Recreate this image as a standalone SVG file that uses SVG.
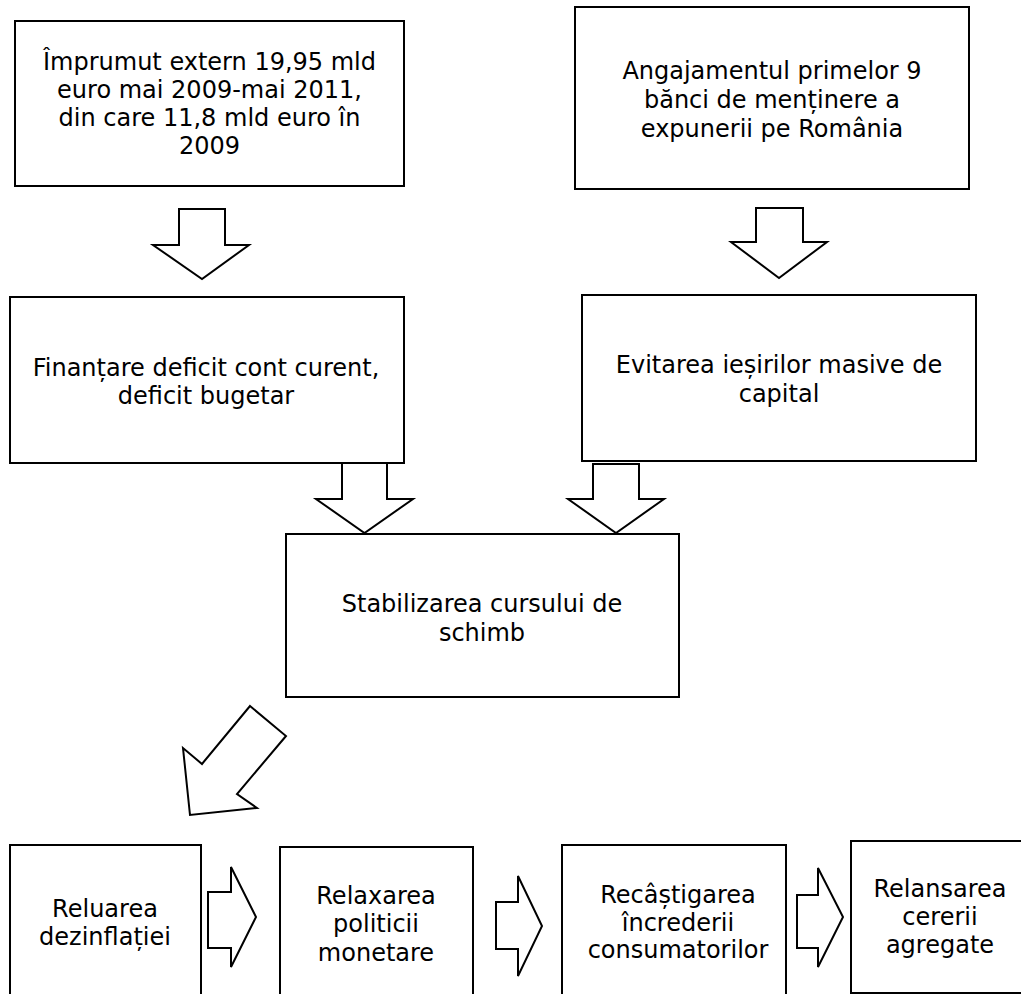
<svg xmlns="http://www.w3.org/2000/svg" width="1021" height="994" viewBox="0 0 1021 994">
  <style>
    .box { fill: #ffffff; stroke: #000000; stroke-width: 2; }
    .arrow { fill: #ffffff; stroke: #000000; stroke-width: 2; stroke-linejoin: miter; }
    .label { font-family: "DejaVu Sans", Verdana, sans-serif; font-size: 24px; fill: #000000; text-anchor: middle; }
  </style>
  <rect x="0" y="0" width="1021" height="994" fill="#ffffff"/>

  <!-- block arrows between the boxes -->
  <g id="connectors">
    <polygon class="arrow" points="179,209 225,209 225,245 249,245 202,279 153,245 179,245"/>
    <polygon class="arrow" points="756,208 803,208 803,242 827,242 779,278 731,242 756,242"/>
    <polygon class="arrow" points="342,463 387,463 387,499 413,499 364.5,533 316,499 342,499"/>
    <polygon class="arrow" points="593,464 639,464 639,499 664,499 616,533 568,499 593,499"/>
    <polygon class="arrow" points="250,706 286,736 237,794 257,808 190,815 183,748 202,764"/>
    <polygon class="arrow" points="208,892 231,892 231,867 256,917 231,967 231,948 208,948"/>
    <polygon class="arrow" points="496,902 518,902 518,876 542,926 518,976 518,949 496,949"/>
    <polygon class="arrow" points="797,895 818,895 818,868 843,917 818,967 818,948 797,948"/>
  </g>

  <g id="imprumut">
    <rect class="box" x="15" y="21" width="389" height="165"/>
    <text class="label" x="209.5" y="70">Împrumut extern 19,95 mld</text>
    <text class="label" x="209.5" y="98">euro mai 2009-mai 2011,</text>
    <text class="label" x="209.5" y="126">din care 11,8 mld euro în</text>
    <text class="label" x="209.5" y="154">2009</text>
  </g>

  <g id="angajament">
    <rect class="box" x="575" y="7" width="394" height="182"/>
    <text class="label" x="772" y="79">Angajamentul primelor 9</text>
    <text class="label" x="772" y="108">bănci de menținere a</text>
    <text class="label" x="772" y="137">expunerii pe România</text>
  </g>

  <g id="finantare">
    <rect class="box" x="10" y="297" width="394" height="166"/>
    <text class="label" x="206" y="376">Finanțare deficit cont curent,</text>
    <text class="label" x="206" y="404">deficit bugetar</text>
  </g>

  <g id="evitarea">
    <rect class="box" x="582" y="295" width="394" height="166"/>
    <text class="label" x="779" y="373">Evitarea ieșirilor masive de</text>
    <text class="label" x="779" y="402">capital</text>
  </g>

  <g id="stabilizarea">
    <rect class="box" x="286" y="534" width="393" height="163"/>
    <text class="label" x="482" y="612">Stabilizarea cursului de</text>
    <text class="label" x="482" y="641">schimb</text>
  </g>

  <g id="reluarea">
    <rect class="box" x="10" y="845" width="191" height="170"/>
    <text class="label" x="105" y="917">Reluarea</text>
    <text class="label" x="105" y="945">dezinflației</text>
  </g>

  <g id="relaxarea">
    <rect class="box" x="280" y="847" width="193" height="170"/>
    <text class="label" x="376" y="904">Relaxarea</text>
    <text class="label" x="376" y="932">politicii</text>
    <text class="label" x="376" y="961">monetare</text>
  </g>

  <g id="recastigarea">
    <rect class="box" x="562" y="845" width="224" height="170"/>
    <text class="label" x="678" y="903">Recâștigarea</text>
    <text class="label" x="678" y="931">încrederii</text>
    <text class="label" x="678" y="958">consumatorilor</text>
  </g>

  <g id="relansarea">
    <rect class="box" x="851" y="841" width="180" height="152"/>
    <text class="label" x="940" y="897">Relansarea</text>
    <text class="label" x="940" y="925">cererii</text>
    <text class="label" x="940" y="953">agregate</text>
  </g>
</svg>
